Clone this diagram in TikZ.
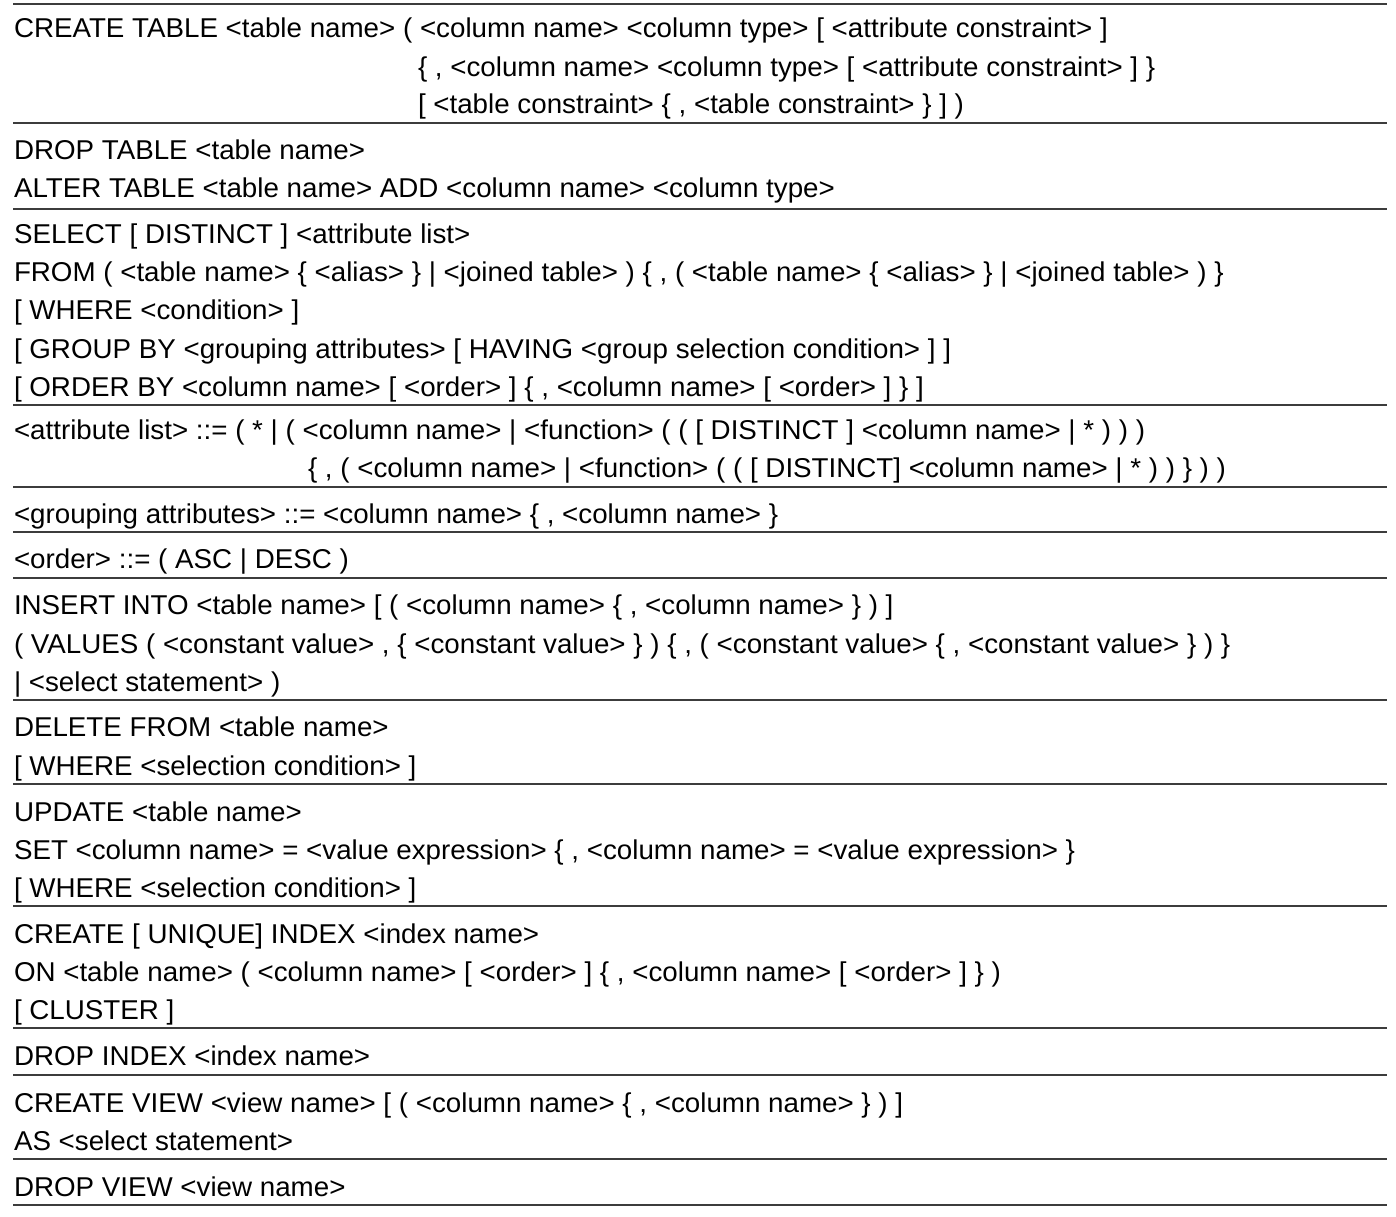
\documentclass[tikz,border=0pt]{standalone}
\usepackage{fontspec}
\setmainfont{Liberation Sans}[FakeStretch=1.02]
\begin{document}
\begin{tikzpicture}[x=1pt,y=-1pt,
  ln/.style={anchor=base west,inner sep=0pt,outer sep=0pt,font=\fontsize{27.2}{30}\selectfont},
  rule/.style={line width=2pt,draw={rgb,255:red,60;green,60;blue,60}}]
\useasboundingbox (0,0) rectangle (1396,1216);
\foreach \y in {4,123,209,405,487,532,578,700,784,906,1028,1075,1159,1205}
  \draw[rule] (13,\y) -- (1387,\y);
\node[ln] (l1) at (14,37.5) {CREATE TABLE <table name> ( <column name> <column type> [ <attribute constraint> ]};
\node[ln] (l2) at (418,76) {\{ , <column name> <column type> [ <attribute constraint> ] \}};
\node[ln] (l3) at (418,113.5) {[ <table constraint> \{ , <table constraint> \} ] )};
\node[ln] (l4) at (14,159.5) {DROP TABLE <table name>};
\node[ln] (l5) at (14,197.5) {ALTER TABLE <table name> ADD <column name> <column type>};
\node[ln] (l6) at (14,243.5) {SELECT [ DISTINCT ] <attribute list>};
\node[ln] (l7) at (14,281.5) {FROM ( <table name> \{ <alias> \} | <joined table> ) \{ , ( <table name> \{ <alias> \} | <joined table> ) \}};
\node[ln] (l8) at (14,319.5) {[ WHERE <condition> ]};
\node[ln] (l9) at (14,358.5) {[ GROUP BY <grouping attributes> [ HAVING <group selection condition> ] ]};
\node[ln] (l10) at (14,396.5) {[ ORDER BY <column name> [ <order> ] \{ , <column name> [ <order> ] \} ]};
\node[ln] (l11) at (14,439.5) {<attribute list> ::= ( * | ( <column name> | <function> ( ( [ DISTINCT ] <column name> | * ) ) )};
\node[ln] (l12) at (308,477.5) {\{ , ( <column name> | <function> ( ( [ DISTINCT] <column name> | * ) ) \} ) )};
\node[ln] (l13) at (14,523.5) {<grouping attributes> ::= <column name> \{ , <column name> \}};
\node[ln] (l14) at (14,568.5) {<order> ::= ( ASC | DESC )};
\node[ln] (l15) at (14,614.5) {INSERT INTO <table name> [ ( <column name> \{ , <column name> \} ) ]};
\node[ln] (l16) at (14,653.5) {( VALUES ( <constant value> , \{ <constant value> \} ) \{ , ( <constant value> \{ , <constant value> \} ) \}};
\node[ln] (l17) at (14,691.5) {| <select statement> )};
\node[ln] (l18) at (14,736.5) {DELETE FROM <table name>};
\node[ln] (l19) at (14,775.5) {[ WHERE <selection condition> ]};
\node[ln] (l20) at (14,821.5) {UPDATE <table name>};
\node[ln] (l21) at (14,859.5) {SET <column name> = <value expression> \{ , <column name> = <value expression> \}};
\node[ln] (l22) at (14,897.5) {[ WHERE <selection condition> ]};
\node[ln] (l23) at (14,943.5) {CREATE [ UNIQUE] INDEX <index name>};
\node[ln] (l24) at (14,981.5) {ON <table name> ( <column name> [ <order> ] \{ , <column name> [ <order> ] \} )};
\node[ln] (l25) at (14,1019.5) {[ CLUSTER ]};
\node[ln] (l26) at (14,1065.5) {DROP INDEX <index name>};
\node[ln] (l27) at (14,1112.5) {CREATE VIEW <view name> [ ( <column name> \{ , <column name> \} ) ]};
\node[ln] (l28) at (14,1150.5) {AS <select statement>};
\node[ln] (l29) at (14,1196.5) {DROP VIEW <view name>};
\end{tikzpicture}
\end{document}
